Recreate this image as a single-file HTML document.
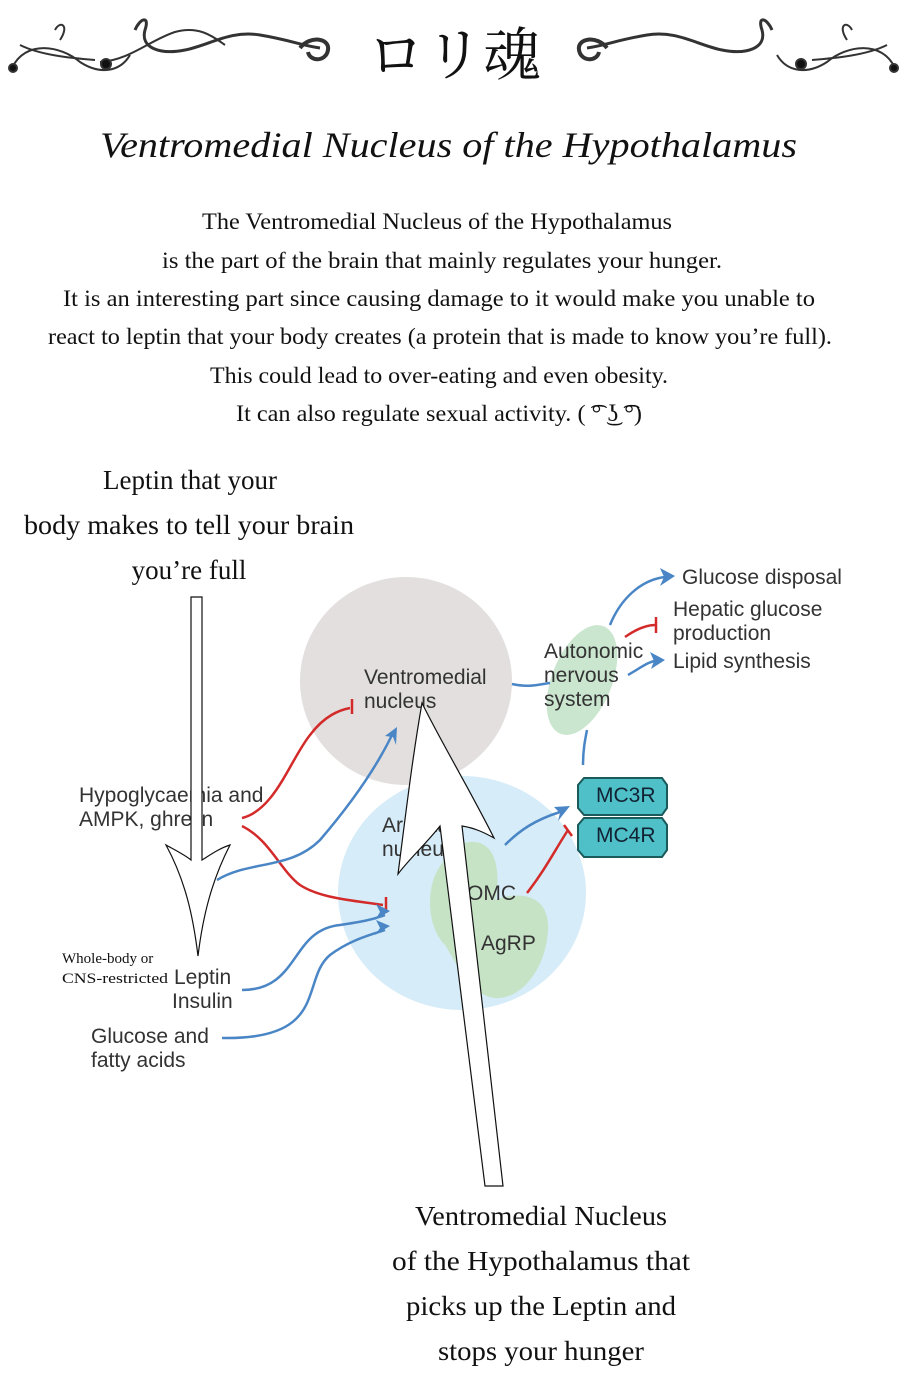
<!DOCTYPE html>
<html><head><meta charset="utf-8"><style>
html,body{margin:0;padding:0;background:#fff;}
svg{display:block;}
.s{font-family:"Liberation Serif","DejaVu Serif",serif;fill:#111;}
.d{font-family:"Liberation Sans","DejaVu Sans",sans-serif;fill:#333;font-size:21px;}
</style></head><body>
<svg width="907" height="1400" viewBox="0 0 907 1400" xmlns="http://www.w3.org/2000/svg">
<g fill="none" stroke="#333" stroke-width="2">
<path d="M12,68 C25,40 60,45 80,62 C100,75 120,72 130,55"/>
<path d="M20,45 C40,55 70,58 95,60"/>
<circle cx="13" cy="68" r="4" fill="#111"/>
<path d="M60,40 C70,25 60,20 55,30"/>
<path d="M100,62 C130,60 150,40 175,32 C200,25 215,38 225,45"/>
<circle cx="106" cy="64" r="5" fill="#111"/>
<path d="M135,30 C140,18 150,15 145,30 C140,48 160,55 185,50 C210,45 230,30 260,35 C290,40 300,45 320,48" stroke-width="3"/>
<path d="M300,48 C310,35 330,38 328,50 C326,62 310,62 308,52" stroke-width="4"/>
<path d="M895,68 C882,40 847,45 827,62 C807,75 787,72 777,55"/>
<path d="M887,45 C867,55 837,58 812,60"/>
<circle cx="894" cy="68" r="4" fill="#111"/>
<path d="M847,40 C837,25 847,20 852,30"/>
<circle cx="801" cy="64" r="5" fill="#111"/>
<path d="M772,30 C767,18 757,15 762,30 C767,48 747,55 722,50 C697,45 677,30 647,35 C617,40 607,45 587,48" stroke-width="3"/>
<path d="M607,48 C597,35 577,38 579,50 C581,62 597,62 599,52" stroke-width="4"/>
</g>
<text x="454" y="75" text-anchor="middle" font-family="'Noto Serif CJK SC','Noto Sans CJK JP',serif" font-size="58" fill="#111">ロリ魂</text>
<text class="s" x="100" y="157" font-size="36" font-style="italic" textLength="697" lengthAdjust="spacingAndGlyphs">Ventromedial Nucleus of the Hypothalamus</text>
<g class="s" font-size="23" text-anchor="middle">
<text x="437" y="229" textLength="470" lengthAdjust="spacingAndGlyphs">The Ventromedial Nucleus of the Hypothalamus</text>
<text x="442" y="268" textLength="560" lengthAdjust="spacingAndGlyphs">is the part of the brain that mainly regulates your hunger.</text>
<text x="439" y="306" textLength="752" lengthAdjust="spacingAndGlyphs">It is an interesting part since causing damage to it would make you unable to</text>
<text x="440" y="344" textLength="784" lengthAdjust="spacingAndGlyphs">react to leptin that your body creates (a protein that is made to know you’re full).</text>
<text x="439" y="383" textLength="458" lengthAdjust="spacingAndGlyphs">This could lead to over-eating and even obesity.</text>
<text x="439" y="421" textLength="406" lengthAdjust="spacingAndGlyphs">It can also regulate sexual activity. ( ͡° ͜ʖ ͡°)</text>
</g>
<g class="s" font-size="27" text-anchor="middle">
<text x="190" y="489">Leptin that your</text>
<text x="189" y="534" textLength="330" lengthAdjust="spacingAndGlyphs">body makes to tell your brain</text>
<text x="189" y="579">you’re full</text>
<text x="541" y="1225" textLength="252" lengthAdjust="spacingAndGlyphs">Ventromedial Nucleus</text>
<text x="541" y="1270" textLength="298" lengthAdjust="spacingAndGlyphs">of the Hypothalamus  that</text>
<text x="541" y="1315" textLength="270" lengthAdjust="spacingAndGlyphs">picks up the Leptin and</text>
<text x="541" y="1360" textLength="206" lengthAdjust="spacingAndGlyphs">stops your hunger</text>
</g>
<ellipse cx="406" cy="681" rx="106" ry="104" fill="#e2dfde"/>
<ellipse cx="462" cy="893" rx="124" ry="117" fill="#d6ecf8"/>
<ellipse cx="582" cy="680" rx="30" ry="58" transform="rotate(22 582 680)" fill="#cbe6cf"/>
<path d="M470,842 C500,840 500,880 495,900 C520,890 550,895 548,930 C546,970 520,1000 495,998 C470,996 455,960 445,945 C425,925 425,880 445,860 C452,850 460,843 470,842Z" fill="#c6e3c6"/>
<g fill="none" stroke-width="2.5">
<path d="M512,684 C530,688 540,684 550,683" stroke="#4a86c5"/>
<path d="M610,625 C620,600 640,580 665,577" stroke="#4a86c5"/>
<path d="M628,675 C640,668 648,662 655,661" stroke="#4a86c5"/>
<path d="M625,637 C635,630 645,625 655,625" stroke="#d32a2a"/>
<path d="M583,765 C583,750 585,740 587,730" stroke="#4a86c5"/>
<path d="M242,818 C275,810 290,760 310,735 C325,715 340,710 350,708" stroke="#d32a2a"/>
<path d="M242,826 C270,840 280,870 300,885 C320,898 350,900 383,905" stroke="#d32a2a"/>
<path d="M217,880 C250,860 290,870 320,840 C350,805 375,770 392,735" stroke="#4a86c5"/>
<path d="M242,990 C300,990 290,930 340,925 C360,922 372,920 385,915" stroke="#4a86c5"/>
<path d="M222,1038 C330,1040 300,980 330,955 C350,940 370,935 385,930" stroke="#4a86c5"/>
<path d="M505,845 C520,830 535,820 560,812" stroke="#4a86c5"/>
<path d="M527,893 C545,870 555,850 568,830" stroke="#d32a2a"/>
</g>
<g stroke="#d32a2a" stroke-width="2.5"><line x1="352" y1="699" x2="352" y2="714"/><line x1="386" y1="897" x2="386" y2="913"/><line x1="656" y1="617" x2="656" y2="633"/><line x1="564" y1="825" x2="572" y2="836"/></g>
<g fill="#4a86c5"><polygon points="675,576 660,568 664,577 660,586"/><polygon points="665,660 650,652 654,661 651,669"/><polygon points="397,727 385,736 393,737 396,745"/><polygon points="390,911 376,904 380,912 375,920"/><polygon points="390,926 376,920 380,928 375,935"/><polygon points="570,806 554,807 560,813 558,821"/></g>
<g stroke="#1a5a5a" stroke-width="2" fill="#4fc0c8"><path d="M584,778 H662 L667,785 V808 L662,815 H584 L578,808 V785Z"/><path d="M584,818 H662 L667,825 V850 L662,857 H584 L578,850 V825Z"/></g>
<g class="d"><text x="596" y="802" fill="#123">MC3R</text><text x="596" y="842" fill="#123">MC4R</text>
<text x="682" y="584">Glucose disposal</text>
<text x="673" y="616">Hepatic glucose</text><text x="673" y="640">production</text>
<text x="673" y="668">Lipid synthesis</text>
<text x="544" y="658">Autonomic</text><text x="544" y="682">nervous</text><text x="544" y="706">system</text>
<text x="364" y="684">Ventromedial</text><text x="364" y="708">nucleus</text>
<text x="79" y="802">Hypoglycaemia and</text><text x="79" y="826">AMPK, ghrelin</text>
<text x="382" y="832">Arcuate</text><text x="382" y="856">nucleus</text>
<text x="453" y="900">POMC</text><text x="481" y="950">AgRP</text>
<text x="174" y="984">Leptin</text><text x="172" y="1008">Insulin</text>
<text x="91" y="1043">Glucose and</text><text x="91" y="1067">fatty acids</text></g>
<g font-family="'Liberation Serif',serif" font-size="15" fill="#111"><text x="62" y="963">Whole-body or</text><text x="62" y="983" textLength="106" lengthAdjust="spacingAndGlyphs">CNS-restricted</text></g>
<g fill="#fff" stroke="#111" stroke-width="1.2">
<path d="M191,597 H202 V860 C210,855 220,848 230,845 C212,880 203,915 198,956 C193,915 185,880 166,845 C175,850 185,855 191,860Z"/>
<path d="M485,1186 L503,1186 L462,826 C475,828 485,833 494,838 C470,790 440,740 422,703 C412,760 405,820 398,874 C410,858 425,845 440,826 Z"/>
</g>
</svg>
</body></html>
